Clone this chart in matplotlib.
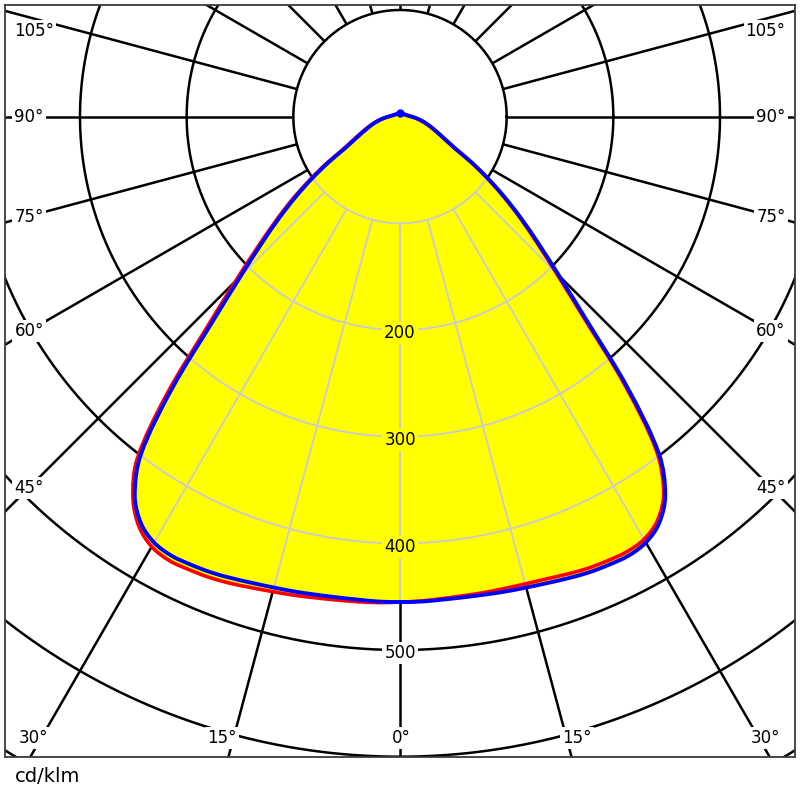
import numpy as np
import matplotlib
matplotlib.use("Agg")
import matplotlib.pyplot as plt
from matplotlib.path import Path
from matplotlib.patches import PathPatch

plt.rcParams['font.family'] = ['DejaVu Sans']

# ---- data (cd/klm) ----
gamma = [0, 2.5, 5, 7.5, 10, 12.5, 15, 17.5, 20, 22.5, 25, 27.5, 30, 32.5, 35,
         37.5, 40, 42.5, 45, 47.5, 50, 52.5, 55, 57.5, 60, 65, 70, 75, 80, 85,
         90, 105, 120, 135, 150, 165, 180]
# C0-C180 plane (red): right half C0, left half C180
c0 = [455, 454.5, 453.5, 453, 453, 453, 453.5, 454.5, 456.5, 458.5, 459.5, 460, 457.5, 449, 431,
      395, 327, 254, 207, 173, 146, 121, 98.5, 78, 59, 42.5, 32.5, 25.5, 19.5, 14.5,
      11, 6, 4.5, 3.5, 3, 3, 3]
c180 = [455, 456, 456.5, 457, 458, 459.5, 461, 463, 465.5, 467.5, 468.5, 469, 465.5, 455.5, 436.5,
        405, 341, 268, 218, 181, 152, 127, 103, 82, 62.5, 45, 34.5, 27, 20.5, 15,
        11, 6, 4.5, 3.5, 3, 3, 3]
# C90-C270 plane (blue): right half C90, left half C270
c90 = [455, 455, 454.5, 454.5, 455, 456, 457, 458.5, 460.5, 462.5, 463.5, 464, 461, 452, 433.5,
       399, 332, 259, 211, 176, 148, 123, 100, 79, 60, 43, 33, 26, 20, 15,
       11, 6, 4.5, 3.5, 3, 3, 3]
c270 = [455, 455, 454.5, 454.5, 455, 456, 457, 458.5, 460.5, 462.5, 463.5, 464, 461, 452, 433.5,
        399, 332, 259, 211, 176, 148, 123, 100, 79, 60, 43, 33, 26, 20, 15,
        11, 6, 4.5, 3.5, 3, 3, 3]

ring_values = [100, 200, 300, 400, 500, 600, 700]
ring_labels = [200, 300, 400, 500]
ray_step = 15
side_labels = [105, 90, 75, 60, 45]
bottom_labels = [30, 15, 0, 15, 30]
unit_label = "cd/klm"

# ---- figure ----
fig = plt.figure(figsize=(8, 8), dpi=100)
ax = fig.add_axes([5/800, 43/800, 790/800, 752/800])
ax.set_xlim(-370.3, 370.3)
ax.set_ylim(-600.3, 104.7)
ax.set_xticks([]); ax.set_yticks([])
for s in ax.spines.values():
    s.set_color('#3a3a3a'); s.set_linewidth(1.3)

g = np.radians(np.array(gamma, dtype=float))


def curve_points(right, left):
    r_r = np.array(right, dtype=float)
    r_l = np.array(left, dtype=float)
    # left half from gamma=180 down to gamma>0, right half from 0 up to <180
    xl = -r_l[:0:-1] * np.sin(g[:0:-1]); yl = -r_l[:0:-1] * np.cos(g[:0:-1])
    xr = r_r[:-1] * np.sin(g[:-1]); yr = -r_r[:-1] * np.cos(g[:-1])
    return np.column_stack([np.concatenate([xl, xr]), np.concatenate([yl, yr])])


def smooth_closed_path(P):
    """Closed smooth path through the points (cubic Bezier, chord-scaled tangents)."""
    n = len(P)
    nxt = np.roll(P, -1, axis=0)
    prv = np.roll(P, 1, axis=0)
    d_next = np.linalg.norm(nxt - P, axis=1)
    d_prev = np.linalg.norm(P - prv, axis=1)
    T = (nxt - prv) / (d_next + d_prev)[:, None]
    verts = [P[0]]
    codes = [Path.MOVETO]
    for i in range(n):
        j = (i + 1) % n
        d = d_next[i]
        verts += [P[i] + T[i] * d / 3, P[j] - T[j] * d / 3, P[j]]
        codes += [Path.CURVE4] * 3
    verts.append(P[0]); codes.append(Path.CLOSEPOLY)
    return Path(np.array(verts), codes)


t = np.linspace(0, 2 * np.pi, 1441)


def draw_grid(color, lw, z, clip=None):
    arts = []
    for rv in ring_values:
        arts += ax.plot(rv * np.cos(t), rv * np.sin(t), color=color, lw=lw, zorder=z)
    for a in range(0, 360, ray_step):
        ar = np.radians(a)
        arts += ax.plot([100 * np.sin(ar), 1000 * np.sin(ar)],
                        [-100 * np.cos(ar), -1000 * np.cos(ar)],
                        color=color, lw=lw, zorder=z, solid_capstyle='butt')
    if clip is not None:
        for l in arts:
            l.set_clip_path(clip)


draw_grid('black', 1.8, 1)

# union fill
upath = smooth_closed_path(curve_points(np.maximum(c0, c90), np.maximum(c180, c270)))
fillp = PathPatch(upath, facecolor='#ffff00', edgecolor='none', zorder=2)
ax.add_patch(fillp)
draw_grid('#cccccc', 1.4, 3, clip=fillp)

rpath = smooth_closed_path(curve_points(c0, c180))
bpts = curve_points(c90, c270)
bpath = smooth_closed_path(bpts)
ax.add_patch(PathPatch(rpath, facecolor='none', edgecolor='#ff0000', lw=2.6, zorder=4))
ax.add_patch(PathPatch(bpath, facecolor='none', edgecolor='#0000ff', lw=2.8, zorder=5))
ax.plot([bpts[0, 0]], [bpts[0, 1]], 'o', color='#0000ff', ms=5, zorder=6)

# ---- labels ----
fs = 12
side_y = {105: 80.3, 90: 0.0, 75: -94.0, 60: -201.0, 45: -348.0}
for a in side_labels:
    for x, ha in [(-361.5, 'left'), (361.5, 'right')]:
        ax.text(x, side_y[a], f"{a}°", ha=ha, va='center', fontsize=fs, zorder=7,
                bbox=dict(facecolor='white', edgecolor='none', pad=1.5))
bottom_x = [-344, -167, 1, 166, 343]
for x, a in zip(bottom_x, bottom_labels):
    ax.text(x, -582.5, f"{a}°", ha='center', va='center', fontsize=fs, zorder=7,
            bbox=dict(facecolor='white', edgecolor='none', pad=1.5))
for rv in ring_labels:
    inside = rv < 455
    ax.text(0, -(rv + 3), f"{rv}", ha='center', va='center', fontsize=fs, zorder=7,
            bbox=dict(facecolor='#ffff00' if inside else 'white', edgecolor='none', pad=1.5))

fig.text(15/800, 1 - 776/800, unit_label, ha='left', va='center', fontsize=14)

fig.savefig('out.png', dpi=100)
